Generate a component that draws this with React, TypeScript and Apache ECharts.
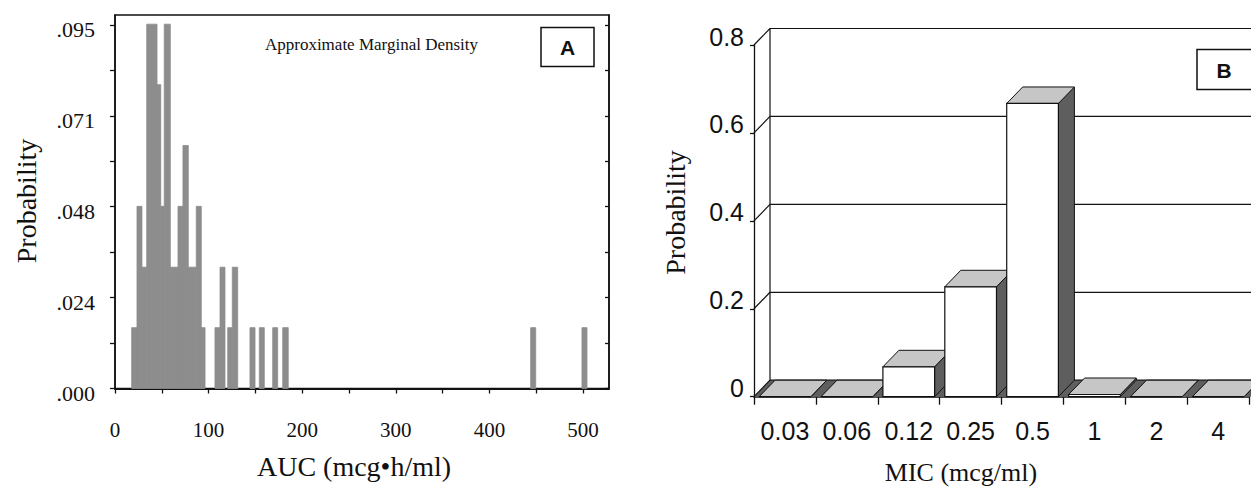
import React, { useEffect, useRef } from "react";
import * as echarts from "echarts";

// ---------- Panel A: AUC histogram ----------
const aucBinStart = [17.8, 23.5, 28.8, 33.9, 44.9, 48.9, 52.6, 59.1, 67.3, 72.6, 78.3, 86.8, 92.2, 106.8, 112.2, 120.4, 125.3, 144.2, 154.2, 168.5, 179.2, 444.1, 498.9];
const aucBinEnd = [23.5, 28.8, 33.9, 44.9, 48.9, 52.6, 59.1, 67.3, 72.6, 78.3, 86.8, 92.2, 96.2, 112.2, 117.5, 125.3, 131.1, 149.6, 159.5, 173.8, 185.1, 449.5, 504.3];
const aucProb = [0.0159, 0.0476, 0.0317, 0.0952, 0.0794, 0.0476, 0.0952, 0.0317, 0.0476, 0.0635, 0.0317, 0.0476, 0.0159, 0.0159, 0.0317, 0.0159, 0.0317, 0.0159, 0.0159, 0.0159, 0.0159, 0.0159, 0.0159];
const aucTickValues = [0, 50, 100, 150, 200, 250, 300, 350, 400, 450, 500];
const aucLabelValues = [0, 100, 200, 300, 400, 500];
const probTickValues = [0, 0.011875, 0.02375, 0.035625, 0.0475, 0.059375, 0.07125, 0.083125, 0.095];
const probLabelValues = [0, 0.02375, 0.0475, 0.07125, 0.095];
const probLabels = [".000", ".024", ".048", ".071", ".095"];

// ---------- Panel B: MIC 3D bars ----------
const micCategories = ["0.03", "0.06", "0.12", "0.25", "0.5", "1", "2", "4"];
const micProb = [0, 0, 0.068, 0.25, 0.667, 0.005, 0, 0];
const micTickValues = [0, 0.2, 0.4, 0.6, 0.8];

const DX = 16;
const DY = 16.5;
const SERIF = "Liberation Serif";
const SANS = "Liberation Sans";

export default function App() {
  const ref = useRef<HTMLDivElement>(null);

  useEffect(() => {
    document.body.style.margin = "0";
    document.body.style.overflow = "hidden";
    const chart = echarts.init(ref.current!, undefined, { renderer: "svg" });
    const lineStyleB = { stroke: "#111", lineWidth: 1.2 };

    const option: any = {
      animation: false,
      backgroundColor: "#fff",
      grid: [
        { left: 115, top: 15, width: 494, height: 373.5, show: true, borderColor: "#111", borderWidth: 1.5, backgroundColor: "transparent" },
        { left: 754, top: 45, width: 495.2, height: 351.7, show: false },
      ],
      xAxis: [
        {
          gridIndex: 0,
          type: "value",
          min: 0,
          max: 527.8,
          axisLine: { show: true, lineStyle: { color: "#111", width: 2 } },
          axisTick: { show: true, length: 5, customValues: aucTickValues, lineStyle: { color: "#111", width: 1.3 } },
          axisLabel: { customValues: aucLabelValues, margin: 31, fontFamily: SERIF, fontSize: 21, color: "#111" },
          splitLine: { show: false },
        },
        {
          gridIndex: 1,
          type: "category",
          data: micCategories,
          boundaryGap: true,
          axisLine: { show: true, lineStyle: { color: "#111", width: 1.5 } },
          axisTick: { show: true, length: 8, interval: 0, alignWithLabel: false, lineStyle: { color: "#111", width: 1.3 } },
          axisLabel: { interval: 0, margin: 22, fontFamily: SANS, fontSize: 25, color: "#111" },
          splitLine: { show: false },
        },
      ],
      yAxis: [
        {
          gridIndex: 0,
          type: "value",
          min: 0,
          max: 0.0976,
          axisLine: { show: true, lineStyle: { color: "#111", width: 1.5 } },
          axisTick: { show: true, length: 5, customValues: probTickValues, lineStyle: { color: "#111", width: 1.3 } },
          axisLabel: {
            customValues: probLabelValues,
            margin: 20,
            fontFamily: SERIF,
            fontSize: 22,
            color: "#111",
            verticalAlign: "top",
            lineHeight: 9,
            formatter: (v: number) => {
              const i = probLabelValues.findIndex((p) => Math.abs(p - v) < 1e-6);
              return i >= 0 ? probLabels[i] : "";
            },
          },
          splitLine: { show: false },
        },
        {
          gridIndex: 0,
          type: "value",
          position: "right",
          min: 0,
          max: 0.0976,
          axisLine: { show: true, lineStyle: { color: "#111", width: 1.5 } },
          axisTick: { show: true, inside: true, length: 4, customValues: probTickValues, lineStyle: { color: "#111", width: 1.3 } },
          axisLabel: { show: false },
          splitLine: { show: false },
        },
        {
          gridIndex: 1,
          type: "value",
          min: 0,
          max: 0.8,
          interval: 0.2,
          axisLine: { show: true, lineStyle: { color: "#111", width: 1.3 } },
          axisTick: { show: true, length: 4, lineStyle: { color: "#111", width: 1.3 } },
          axisLabel: { margin: 10, fontFamily: SANS, fontSize: 25, color: "#111", verticalAlign: "bottom", lineHeight: 17 },
          splitLine: { show: false },
        },
      ],
      series: [
        {
          type: "custom",
          name: "AUC",
          xAxisIndex: 0,
          yAxisIndex: 0,
          encode: { x: [0, 1], y: 2 },
          data: aucBinStart.map((s, i) => [s, aucBinEnd[i], aucProb[i]]),
          renderItem: (params: any, api: any) => {
            const p0 = api.coord([api.value(0), api.value(2)]);
            const p1 = api.coord([api.value(1), 0]);
            return {
              type: "rect",
              shape: { x: p0[0], y: p0[1], width: p1[0] - p0[0], height: p1[1] - p0[1] },
              style: { fill: "#8d8d8d", stroke: "#8d8d8d", lineWidth: 0.8 },
            };
          },
        },
        {
          type: "custom",
          name: "frame",
          xAxisIndex: 1,
          yAxisIndex: 2,
          clip: false,
          silent: true,
          z: 1,
          encode: { x: 0, y: 1 },
          data: micTickValues.map((v) => [0, v]),
          renderItem: (params: any, api: any) => {
            const v = api.value(1);
            const cs = params.coordSys;
            const y = api.coord([0, v])[1];
            const left = cs.x;
            const right = cs.x + cs.width + 40;
            const children: any[] = [];
            if (v === 0) {
              children.push({
                type: "polygon",
                shape: { points: [[left, y], [right, y], [right + DX, y - DY], [left + DX, y - DY]] },
                style: { fill: "#5f5f5f" },
              });
              children.push({
                type: "line",
                shape: { x1: left + DX, y1: y - DY, x2: left + DX, y2: cs.y - DY },
                style: lineStyleB,
              });
            }
            children.push({ type: "line", shape: { x1: left, y1: y, x2: left + DX, y2: y - DY }, style: lineStyleB });
            children.push({ type: "line", shape: { x1: left + DX, y1: y - DY, x2: right + DX, y2: y - DY }, style: lineStyleB });
            return { type: "group", children };
          },
        },
        {
          type: "custom",
          name: "MIC",
          xAxisIndex: 1,
          yAxisIndex: 2,
          clip: false,
          z: 2,
          encode: { x: 0, y: 1 },
          data: micProb.map((v, i) => [i, v]),
          renderItem: (params: any, api: any) => {
            const i = api.value(0);
            const v = api.value(1);
            const top = api.coord([i, v]);
            const base = api.coord([i, 0]);
            const band = api.size([1, 0])[0];
            const bw = band * 0.835;
            const x0 = top[0] - bw / 2;
            const x1 = x0 + bw;
            const yt = top[1];
            const yb = base[1];
            return {
              type: "group",
              children: [
                {
                  type: "polygon",
                  shape: { points: [[x1, yb], [x1 + DX, yb - DY], [x1 + DX, yt - DY], [x1, yt]] },
                  style: { fill: "#5e5e5e", stroke: "#111", lineWidth: 1 },
                },
                {
                  type: "polygon",
                  shape: { points: [[x0, yt], [x1, yt], [x1 + DX, yt - DY], [x0 + DX, yt - DY]] },
                  style: { fill: "#c6c6c6", stroke: "#111", lineWidth: 1 },
                },
                {
                  type: "rect",
                  shape: { x: x0, y: yt, width: bw, height: yb - yt },
                  style: { fill: "#fff", stroke: "#111", lineWidth: 1.2 },
                },
              ],
            };
          },
        },
      ],
      graphic: [
        { type: "text", x: 371.5, y: 44, style: { text: "Approximate Marginal Density", font: `17px "${SERIF}"`, fill: "#111", align: "center", verticalAlign: "middle" } },
        { type: "rect", shape: { x: 541, y: 27.5, width: 53, height: 39 }, style: { fill: "#fff", stroke: "#111", lineWidth: 1.5 } },
        { type: "text", x: 567.5, y: 47, style: { text: "A", font: `bold 21px "${SANS}"`, fill: "#111", align: "center", verticalAlign: "middle" } },
        { type: "text", x: 26, y: 201, rotation: Math.PI / 2, style: { text: "Probability", font: `28px "${SERIF}"`, fill: "#111", align: "center", verticalAlign: "middle" } },
        { type: "text", x: 354, y: 466, style: { text: "AUC (mcg•h/ml)", font: `28px "${SERIF}"`, fill: "#111", align: "center", verticalAlign: "middle" } },
        { type: "text", x: 675, y: 212.5, rotation: Math.PI / 2, style: { text: "Probability", font: `28px "${SERIF}"`, fill: "#111", align: "center", verticalAlign: "middle" } },
        { type: "text", x: 961, y: 472, style: { text: "MIC (mcg/ml)", font: `26px "${SERIF}"`, fill: "#111", align: "center", verticalAlign: "middle" } },
        { type: "rect", z: 10, shape: { x: 1197, y: 49.5, width: 70, height: 40 }, style: { fill: "#fff", stroke: "#111", lineWidth: 1.5 } },
        { type: "text", z: 11, x: 1224, y: 70, style: { text: "B", font: `bold 21px "${SANS}"`, fill: "#111", align: "center", verticalAlign: "middle" } },
      ],
    };

    chart.setOption(option);
    return () => chart.dispose();
  }, []);

  return <div ref={ref} style={{ position: "absolute", left: 0, top: 0, width: 1251, height: 488 }} />;
}
